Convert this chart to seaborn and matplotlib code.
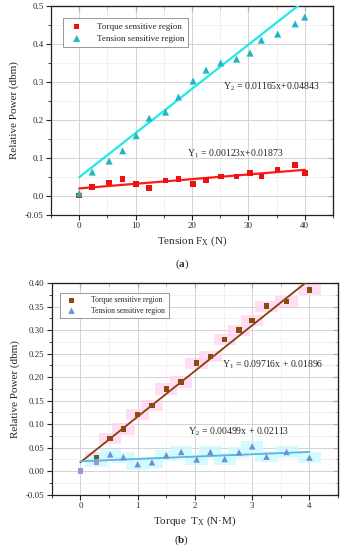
import numpy as np
import matplotlib
matplotlib.use('Agg')
import matplotlib.pyplot as plt
import seaborn as sns
from matplotlib.ticker import MultipleLocator, FixedLocator, FixedFormatter

# (a) tension loading
force = [0, 2.3, 5.3, 7.7, 10.1, 12.4, 15.3, 17.6, 20.2, 22.5, 25.1, 27.9, 30.3, 32.3, 35.2, 38.3, 40.0]
a_torque = [0.0, 0.022, 0.035, 0.043, 0.031, 0.020, 0.040, 0.044, 0.030, 0.041, 0.050, 0.050, 0.059, 0.050, 0.069, 0.080, 0.060]
a_tension = [0.006, 0.062, 0.091, 0.118, 0.158, 0.204, 0.220, 0.260, 0.302, 0.331, 0.350, 0.360, 0.376, 0.410, 0.426, 0.453, 0.471]
a_fit_torque = (0.00123, 0.01873)
a_fit_tension = (0.01165, 0.04843)

# (b) torque loading
torque = [0, 0.28, 0.52, 0.75, 1.0, 1.25, 1.5, 1.76, 2.03, 2.27, 2.52, 2.77, 3.0, 3.25, 3.6, 4.0]
b_torque = [0.0, 0.029, 0.070, 0.090, 0.121, 0.140, 0.175, 0.190, 0.230, 0.244, 0.280, 0.300, 0.321, 0.351, 0.361, 0.386]
b_tension = [0.0, 0.020, 0.036, 0.030, 0.015, 0.019, 0.034, 0.041, 0.025, 0.041, 0.026, 0.040, 0.053, 0.031, 0.041, 0.029]
b_fit_torque = (0.09716, 0.01896)
b_fit_tension = (0.00499, 0.02113)

sns.set_style('ticks')
plt.rcParams['font.family'] = ['Liberation Serif', 'DejaVu Serif']
plt.rcParams['mathtext.fontset'] = 'custom'
plt.rcParams['mathtext.rm'] = 'Liberation Serif'
plt.rcParams['mathtext.it'] = 'Liberation Serif:italic'
plt.rcParams['mathtext.bf'] = 'Liberation Serif:bold'

fig = plt.figure(figsize=(3.45, 5.5), dpi=100)
ax1 = fig.add_axes([0.148, 0.61, 0.817, 0.379])
ax2 = fig.add_axes([0.15, 0.1005, 0.83, 0.3845])

rect = [(-1, -0.5), (1, -0.5), (1, 0.5), (-1, 0.5)]


def style_axes(ax, mx, mnx, mny, tick_size):
    ax.xaxis.set_major_locator(MultipleLocator(mx))
    ax.xaxis.set_minor_locator(MultipleLocator(mnx))
    ax.yaxis.set_minor_locator(MultipleLocator(mny))
    ax.grid(which='major', color='#cccccc', lw=0.6)
    ax.grid(which='minor', color='#ebebeb', lw=0.5)
    ax.set_axisbelow(True)
    ax.tick_params(which='major', direction='out', length=3.5, width=0.8, labelsize=tick_size, pad=2)
    ax.tick_params(which='minor', direction='out', length=2, width=0.6)
    for s in ax.spines.values():
        s.set_linewidth(0.9)
        s.set_color('#222222')
    # inward ticks on the top and right sides
    top = ax.secondary_xaxis('top')
    top.xaxis.set_major_locator(MultipleLocator(mx))
    top.xaxis.set_minor_locator(MultipleLocator(mnx))
    top.tick_params(which='both', direction='in', labeltop=False)
    top.tick_params(which='major', length=3.5)
    top.tick_params(which='minor', length=2)
    right = ax.secondary_yaxis('right')
    right.yaxis.set_major_locator(ax.yaxis.get_major_locator())
    right.yaxis.set_minor_locator(MultipleLocator(mny))
    right.tick_params(which='both', direction='in', labelright=False)
    right.tick_params(which='major', length=3.5)
    right.tick_params(which='minor', length=2)


def fit_line(ax, xs, coef, color, lw):
    xs = np.array([min(xs), max(xs)])
    sns.lineplot(x=xs, y=coef[0] * xs + coef[1], color=color, lw=lw, ax=ax, zorder=3)


# ---------- panel (a) ----------
fit_line(ax1, force, a_fit_tension, '#22e8e8', 1.6)
fit_line(ax1, force, a_fit_torque, '#ff1a1a', 1.6)
sns.scatterplot(x=force, y=a_torque, marker='s', s=16, color='#ee1111', edgecolor='none',
                label='Torque sensitive region', ax=ax1, zorder=4)
sns.scatterplot(x=force, y=a_tension, marker='^', s=26, color='#1fb8c0', edgecolor='none',
                label='Tension sensitive region', ax=ax1, zorder=4)

ax1.set_xlim(-5, 45)
ax1.set_ylim(-0.05, 0.5)
ax1.yaxis.set_major_locator(FixedLocator([-0.05, 0, 0.1, 0.2, 0.3, 0.4, 0.5]))
ax1.yaxis.set_major_formatter(FixedFormatter(['-0.05', '0.0', '0.1', '0.2', '0.3', '0.4', '0.5']))
style_axes(ax1, 10, 5, 0.05, 6.5)
ax1.set_xlabel('Tension F$_\\mathrm{X}$ (N)', fontsize=8, labelpad=3)
ax1.set_ylabel('Relative Power (dbm)', fontsize=8, labelpad=4)
ax1.text(25.5, 0.287, 'Y$_2$ = 0.01165x+0.04843', fontsize=7, va='center')
ax1.text(19.1, 0.109, 'Y$_1$ = 0.00123x+0.01873', fontsize=7, va='center')
leg = ax1.legend(loc='upper left', bbox_to_anchor=(0.043, 0.9425), borderaxespad=0,
                 fontsize=6.5, frameon=True, fancybox=False, edgecolor='#888888',
                 framealpha=1, handletextpad=1.2, borderpad=0.5, labelspacing=0.4)
leg.get_frame().set_linewidth(0.6)

# ---------- panel (b) ----------
sns.scatterplot(x=torque[1:], y=b_torque[1:], marker=rect, s=260, color='#ffd6f0', edgecolor='none',
                alpha=0.8, ax=ax2, zorder=1)
sns.scatterplot(x=torque[1:], y=b_tension[1:], marker=rect, s=260, color='#ccfbff', edgecolor='none',
                alpha=0.8, ax=ax2, zorder=1)
fit_line(ax2, torque, b_fit_torque, '#8a3c0c', 1.3)
fit_line(ax2, torque, b_fit_tension, '#5ab4e6', 1.3)
sns.scatterplot(x=torque[2:], y=b_torque[2:], marker='s', s=16, color='#8b4a12', edgecolor='none',
                label='Torque sensitive region', ax=ax2, zorder=4)
sns.scatterplot(x=torque[2:], y=b_tension[2:], marker='^', s=22, color='#6e8fd4', edgecolor='none',
                label='Tension sensitive region', ax=ax2, zorder=4)
sns.scatterplot(x=torque[1:2], y=b_torque[1:2], marker='s', s=16, color='#2f7a2a', edgecolor='none',
                ax=ax2, zorder=4)
sns.scatterplot(x=torque[:2], y=b_tension[:2], marker='s', s=16, color='#9898d6', edgecolor='none',
                ax=ax2, zorder=4)

ax2.set_xlim(-0.5, 4.5)
ax2.set_ylim(-0.05, 0.4)
ax2.yaxis.set_major_locator(MultipleLocator(0.05))
ax2.yaxis.set_major_formatter(plt.FormatStrFormatter('%.2f'))
style_axes(ax2, 1, 0.5, 0.025, 6.3)
ax2.set_xlabel('Torque  T$_\\mathrm{X}$ (N·M)', fontsize=8, labelpad=3)
ax2.set_ylabel('Relative Power (dbm)', fontsize=8, labelpad=4)
ax2.text(2.47, 0.2256, 'Y$_1$ = 0.09716x + 0.01896', fontsize=7, va='center')
ax2.text(1.88, 0.083, 'Y$_2$ = 0.00499x + 0.02113', fontsize=7, va='center')
leg = ax2.legend(loc='upper left', bbox_to_anchor=(0.029, 0.956), borderaxespad=0,
                 fontsize=5.5, frameon=True, fancybox=False, edgecolor='#888888',
                 framealpha=1, handletextpad=1.6, borderpad=0.5, labelspacing=0.3)
leg.get_frame().set_linewidth(0.6)

fig.text(182 / 345, 1 - 264 / 550, '($\\mathbf{a}$)', ha='center', va='center', fontsize=8)
fig.text(182 / 345, 1 - 540 / 550, '($\\mathbf{b}$)', ha='center', va='center', fontsize=8)

fig.savefig('out.png', dpi=100)
